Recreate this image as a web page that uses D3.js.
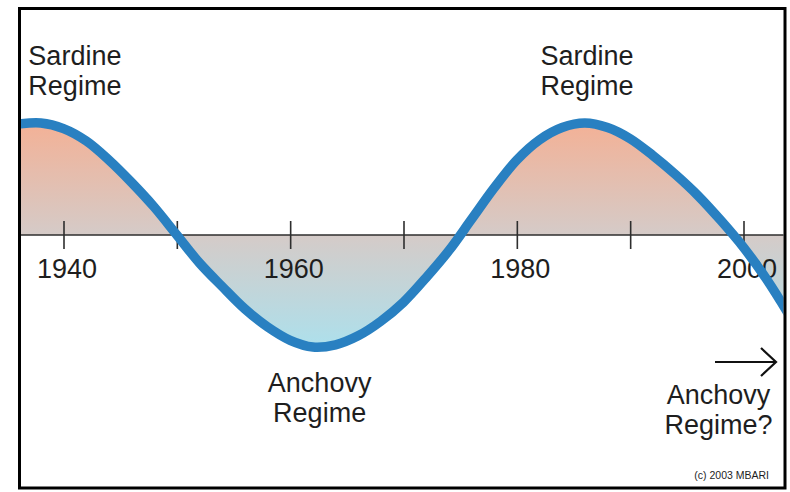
<!DOCTYPE html>
<html>
<head>
<meta charset="utf-8">
<script src="https://cdn.jsdelivr.net/npm/d3@7"></script>
<style>
  body { margin: 0; background: #fff; }
  svg { display: block; }
  text { font-family: "Liberation Sans", Arial, Helvetica, sans-serif; fill: #1e1e1e; }
</style>
</head>
<body>
<svg id="chart" width="790" height="492"></svg>
<script>
// regime index (+1 = sardine peak, -1 = anchovy trough)
var years  = [1936, 1938, 1940, 1942, 1944, 1946, 1948, 1950, 1952, 1954, 1956, 1958,
              1960, 1962, 1964, 1966, 1968, 1970, 1972, 1974, 1976, 1978, 1980, 1982,
              1984, 1986, 1988, 1990, 1992, 1994, 1996, 1998, 2000, 2002, 2004];
var values = [0.99, 1.00, 0.95, 0.84, 0.67, 0.47, 0.25, 0.00, -0.25, -0.46, -0.66, -0.82,
              -0.94, -1.00, -0.98, -0.90, -0.77, -0.60, -0.38, -0.14, 0.14, 0.42, 0.67, 0.85,
              0.96, 1.00, 0.96, 0.86, 0.71, 0.54, 0.35, 0.13, -0.11, -0.39, -0.71];

var tickYears  = [1940, 1950, 1960, 1970, 1980, 1990, 2000];
var labelYears = [1940, 1960, 1980, 2000];

var regimeLabels = [
  {year: 1936.9, lines: ["Sardine", "Regime"], anchor: "start"},
  {year: 1986.2, lines: ["Sardine", "Regime"], anchor: "middle"},
  {year: 1962.6, lines: ["Anchovy", "Regime"], anchor: "middle"},
  {year: 1997.8, lines: ["Anchovy", "Regime?"], anchor: "middle"}
];

var svg = d3.select("#chart");

var box = {left: 19.5, top: 8.5, right: 785, bottom: 488};

var x = d3.scaleLinear().domain([1940, 2000]).range([63.5, 743.5]);
var y = d3.scaleLinear().domain([-1, 1]).range([347, 123]);

var data = years.map(function(d, i){ return {year: d, value: values[i]}; });

// clip to the frame
svg.append("defs").append("clipPath").attr("id", "frame")
  .append("rect")
    .attr("x", box.left + 1.5).attr("y", box.top + 1.5)
    .attr("width", box.right - box.left - 3).attr("height", box.bottom - box.top - 3);

var grad = svg.select("defs").append("linearGradient")
  .attr("id", "fillGrad")
  .attr("gradientUnits", "userSpaceOnUse")
  .attr("x1", 0).attr("x2", 0)
  .attr("y1", y(1)).attr("y2", y(-1));
grad.append("stop").attr("offset", "0").attr("stop-color", "#f3b196");
grad.append("stop").attr("offset", "0.5").attr("stop-color", "#d5cbc8");
grad.append("stop").attr("offset", "1").attr("stop-color", "#ade0ec");

var plot = svg.append("g").attr("clip-path", "url(#frame)");

var area = d3.area()
  .curve(d3.curveCatmullRom.alpha(0.5))
  .x(function(d){ return x(d.year); })
  .y0(y(0))
  .y1(function(d){ return y(d.value); });

plot.append("path")
  .datum(data)
  .attr("d", area)
  .attr("fill", "url(#fillGrad)");

// baseline across the frame
plot.append("line")
  .attr("x1", box.left).attr("x2", box.right)
  .attr("y1", y(0)).attr("y2", y(0))
  .attr("stroke", "#2e2e2e")
  .attr("stroke-width", 1.5);

// ticks + year labels
var xAxis = d3.axisBottom(x)
  .tickValues(tickYears)
  .tickFormat(function(d){ return labelYears.indexOf(d) >= 0 ? d : ""; });

var axisG = plot.append("g")
  .attr("transform", "translate(0," + y(0) + ")")
  .call(xAxis);
axisG.select(".domain").remove();
axisG.selectAll(".tick line")
  .attr("y1", -14).attr("y2", 14)
  .attr("stroke", "#2e2e2e")
  .attr("stroke-width", 1.6);
axisG.selectAll(".tick text")
  .attr("y", 43).attr("dy", 0)
  .attr("dx", 3)
  .attr("font-size", 27)
  .attr("font-family", "\"Liberation Sans\", Arial, sans-serif")
  .attr("fill", "#1e1e1e");

var line = d3.line()
  .curve(d3.curveCatmullRom.alpha(0.5))
  .x(function(d){ return x(d.year); })
  .y(function(d){ return y(d.value); });

plot.append("path")
  .datum(data)
  .attr("d", line)
  .attr("fill", "none")
  .attr("stroke", "#2980c1")
  .attr("stroke-width", 9.5)
  .attr("stroke-linejoin", "round");

// frame
svg.append("rect")
  .attr("x", box.left).attr("y", box.top)
  .attr("width", box.right - box.left).attr("height", box.bottom - box.top)
  .attr("fill", "none")
  .attr("stroke", "#000")
  .attr("stroke-width", 3);

// regime labels
var baseY = [65, 65, 392, 404];
regimeLabels.forEach(function(l, i){
  var t = svg.append("text")
    .attr("x", x(l.year))
    .attr("y", baseY[i])
    .attr("text-anchor", l.anchor)
    .attr("font-size", 27);
  l.lines.forEach(function(s, j){
    t.append("tspan")
      .attr("x", x(l.year))
      .attr("dy", j === 0 ? 0 : 30)
      .text(s);
  });
});

// arrow pointing to the future
var ar = svg.append("g")
  .attr("fill", "none")
  .attr("stroke", "#111")
  .attr("stroke-width", 2.2);
ar.append("line").attr("x1", 715).attr("x2", 776).attr("y1", 362).attr("y2", 362);
ar.append("path").attr("d", "M761,348 L776,362 L761,376");

svg.append("text")
  .attr("x", 769).attr("y", 479)
  .attr("text-anchor", "end")
  .attr("font-size", 10.5)
  .attr("fill", "#555")
  .text("(c) 2003 MBARI");
</script>
</body>
</html>
